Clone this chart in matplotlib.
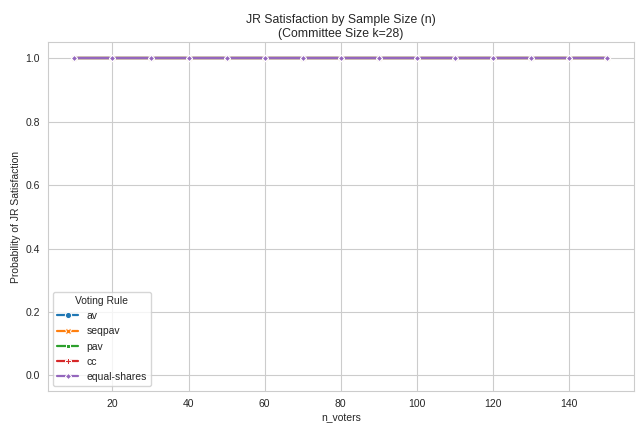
import matplotlib
matplotlib.use("Agg")
import matplotlib.pyplot as plt
import seaborn as sns
import pandas as pd

n_voters = [10, 20, 30, 40, 50, 60, 70, 80, 90, 100, 110, 120, 130, 140, 150]
rules = ["av", "seqpav", "pav", "cc", "equal-shares"]
jr_prob = {
    "av": [1.0] * 15,
    "seqpav": [1.0] * 15,
    "pav": [1.0] * 15,
    "cc": [1.0] * 15,
    "equal-shares": [1.0] * 15,
}

rows = []
for r in rules:
    for n, p in zip(n_voters, jr_prob[r]):
        rows.append({"n_voters": n, "jr": p, "Voting Rule": r})
df = pd.DataFrame(rows)

sns.set_style("whitegrid")
plt.rcParams["font.family"] = ["Liberation Sans", "DejaVu Sans"]
fig, ax = plt.subplots(figsize=(6.37, 4.24), dpi=100)
sns.lineplot(data=df, x="n_voters", y="jr", hue="Voting Rule", style="Voting Rule",
             markers=True, dashes=False, linewidth=1.6, markersize=4.5, ax=ax)
ax.set_ylim(-0.05, 1.05)
ax.set_xlabel("n_voters", fontsize=7.5, labelpad=2.5)
ax.set_ylabel("Probability of JR Satisfaction", fontsize=7.5, labelpad=3)
ax.set_title("JR Satisfaction by Sample Size (n)\n(Committee Size k=28)", fontsize=8.8,
             linespacing=1.25, pad=4)
ax.tick_params(labelsize=7.5, pad=2.2)
leg = ax.legend(title="Voting Rule", loc="lower left", fontsize=7.5, title_fontsize=7.5)
fig.subplots_adjust(left=0.075, right=0.995, top=0.9, bottom=0.077)
fig.savefig("out.png", dpi=100)
